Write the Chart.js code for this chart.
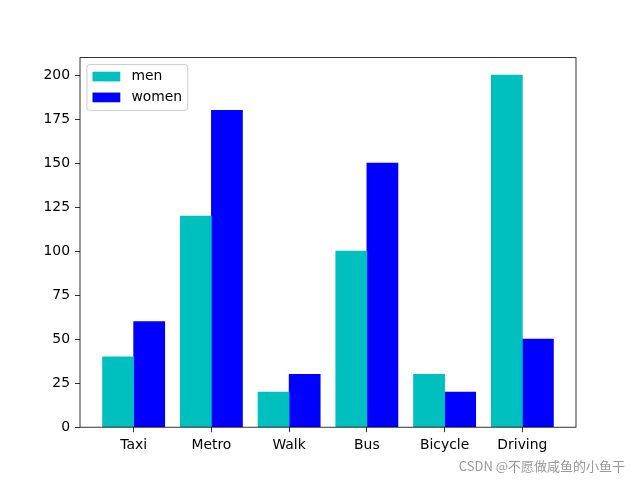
<!DOCTYPE html>
<html>
<head>
<meta charset="utf-8">
<script src="https://cdn.jsdelivr.net/npm/chart.js@4.4.0/dist/chart.umd.min.js"></script>
<style>
  body { margin: 0; background: #fff; }
  #wrap { position: relative; width: 640px; height: 480px; }
  #mark {
    position: absolute; right: 15px; top: 456px;
    font: 13px "Noto Sans CJK SC", sans-serif; color: #999; white-space: nowrap;
  }
</style>
</head>
<body>
<div id="wrap">
  <canvas id="myChart" width="640" height="480"></canvas>
  <div id="mark">CSDN @不愿做咸鱼的小鱼干</div>
</div>
<script>
var categories = ["Taxi", "Metro", "Walk", "Bus", "Bicycle", "Driving"];
var men = [40, 120, 20, 100, 30, 200];
var women = [60, 180, 30, 150, 20, 50];
var yTicks = [0, 25, 50, 75, 100, 125, 150, 175, 200];
var barWidth = 0.4;

var fs = 13.9; // 10pt at 100dpi
Chart.defaults.font.family = "'DejaVu Sans', sans-serif";
Chart.defaults.font.size = fs;
Chart.defaults.color = "#000";

// frame round the axes + matplotlib style legend
var framePlugin = {
  id: "frame",
  afterDraw: function (chart) {
    var a = chart.chartArea;
    var c = chart.ctx;
    c.save();
    c.strokeStyle = "#000";
    c.lineWidth = 0.8;
    c.strokeRect(a.left, a.top, a.right - a.left, a.bottom - a.top);

    // legend
    var sets = chart.data.datasets;
    c.font = fs + "px 'DejaVu Sans'";
    var tw = 0;
    sets.forEach(function (d) { tw = Math.max(tw, c.measureText(d.label).width); });
    var pad = 0.4 * fs;
    var x0 = a.left + 0.5 * fs;
    var y0 = a.top + 0.5 * fs;
    var w = 2 * pad + 2 * fs + 0.8 * fs + tw;
    var h = 2 * pad + sets.length * fs + (sets.length - 1) * 0.5 * fs;
    c.beginPath();
    if (c.roundRect) c.roundRect(x0, y0, w, h, 0.2 * fs);
    else c.rect(x0, y0, w, h);
    c.fillStyle = "rgba(255,255,255,0.8)";
    c.fill();
    c.strokeStyle = "#cccccc";
    c.lineWidth = 1;
    c.stroke();
    c.textBaseline = "middle";
    c.textAlign = "left";
    sets.forEach(function (d, i) {
      var cy = y0 + pad + i * 1.5 * fs + fs / 2 - 0.5;
      c.fillStyle = d.backgroundColor;
      c.fillRect(x0 + pad, cy - 0.35 * fs, 2 * fs, 0.7 * fs);
      c.fillStyle = "#000";
      c.fillText(d.label, x0 + pad + 2.8 * fs, cy);
    });
    c.restore();
  }
};

var ctx = document.getElementById("myChart").getContext("2d");
var myChart = new Chart(ctx, {
  type: "bar",
  plugins: [framePlugin],
  data: {
    datasets: [
      {
        label: "men",
        data: men.map(function (v, i) { return { x: i - barWidth / 2, y: v }; }),
        backgroundColor: "#00bfbf",
        grouped: false,
        barPercentage: 1,
        categoryPercentage: 1
      },
      {
        label: "women",
        data: women.map(function (v, i) { return { x: i + barWidth / 2, y: v }; }),
        backgroundColor: "#0000ff",
        grouped: false,
        barPercentage: 1,
        categoryPercentage: 1
      }
    ]
  },
  options: {
    responsive: false,
    animation: false,
    layout: { padding: { top: 57.6, right: 64, bottom: 0, left: 0 } },
    plugins: {
      legend: { display: false },
      tooltip: { enabled: false }
    },
    scales: {
      x: {
        type: "linear",
        min: -0.69,
        max: 5.69,
        offset: false,
        afterBuildTicks: function (scale) {
          scale.ticks = categories.map(function (n, i) { return { value: i }; });
        },
        afterFit: function (scale) { scale.height = 52.8; },
        ticks: {
          padding: 5,
          maxRotation: 0,
          autoSkip: false,
          callback: function (v) { return categories[v]; }
        },
        grid: { offset: false, drawOnChartArea: false, drawTicks: true, tickLength: 5, color: "#000", lineWidth: 0.8 },
        border: { display: false }
      },
      y: {
        min: 0,
        max: 210,
        afterBuildTicks: function (scale) {
          scale.ticks = yTicks.map(function (v) { return { value: v }; });
        },
        afterFit: function (scale) { scale.width = 80; },
        ticks: { padding: 5 },
        grid: { drawOnChartArea: false, drawTicks: true, tickLength: 5, color: "#000", lineWidth: 0.8 },
        border: { display: false }
      }
    }
  }
});
</script>
</body>
</html>
